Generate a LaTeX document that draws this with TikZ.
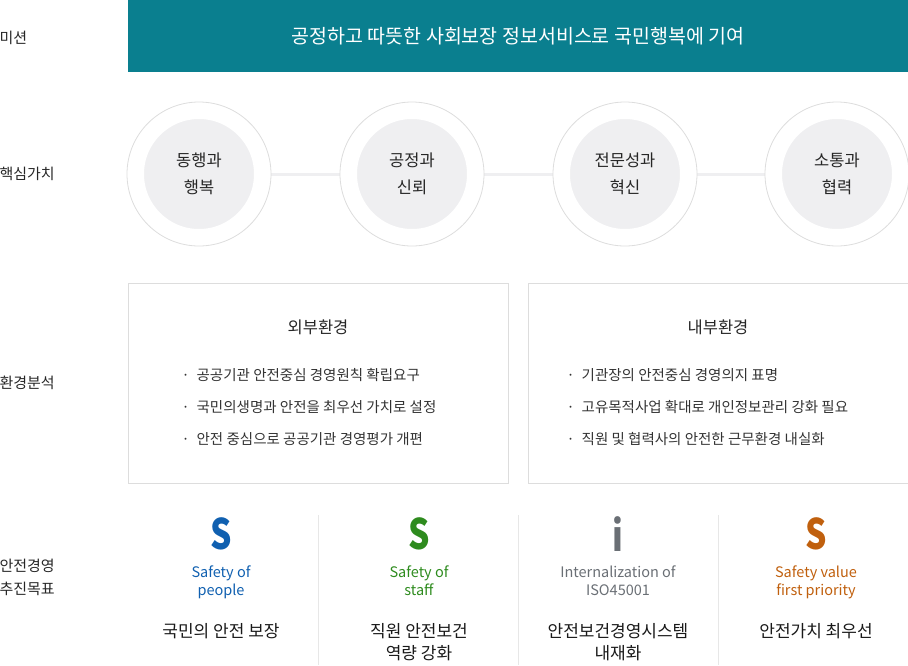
\documentclass[tikz,border=0pt]{standalone}
\usepackage{fontspec}
\setmainfont{Noto Sans CJK KR}
\definecolor{teal}{HTML}{0A7F8F}
\definecolor{circfill}{HTML}{EFEFF1}
\definecolor{edge}{HTML}{DDDDDD}
\definecolor{sblue}{HTML}{1060B0}
\definecolor{sgreen}{HTML}{2E8B1E}
\definecolor{sgray}{HTML}{6A6F75}
\definecolor{sorange}{HTML}{C0600E}
\tikzset{
  rowlabel/.style={anchor=west,font=\fontsize{15}{19}\selectfont,align=left,text=black!85},
  value/.style={circle,minimum size=121pt,fill=circfill,draw=white,line width=11pt,
    font=\fontsize{16.5}{27}\selectfont,align=center,text=black!85},
  ring/.style={circle,minimum size=144pt,draw=edge,line width=0.8pt,fill=white,inner sep=0pt},
  bullet/.style={anchor=west,font=\fontsize{14.5}{17}\selectfont,text=black!80},
  goalmark/.style={font=\bfseries\fontsize{42}{44}\selectfont,xscale=0.8},
  goalen/.style={font=\fontsize{14.5}{18}\selectfont,align=center},
  goalkr/.style={font=\fontsize{17}{22}\selectfont,align=center,text=black!90}
}
\begin{document}
\begin{tikzpicture}[x=1pt,y=-1pt]
  \useasboundingbox (0,0) rectangle (908,665);
  % mission
  \fill[teal] (128,0) rectangle (908,72);
  \node[font=\fontsize{19.5}{22}\selectfont,text=white] (mission) at (518,36) {공정하고 따뜻한 사회보장 정보서비스로 국민행복에 기여};
  \node[rowlabel] (l1) at (-4,38) {미션};
  \node[rowlabel] (l2) at (-4,174) {핵심가치};
  \node[rowlabel] (l3) at (-4,383) {환경분석};
  \node[rowlabel] (l4) at (-4,577) {안전경영\\[4pt]추진목표};
  % core values
  \draw[circfill,line width=3pt] (199,174) -- (837,174);
  \foreach \cx/\txt [count=\i] in {199/{동행과\\행복},412/{공정과\\신뢰},625/{전문성과\\혁신},837/{소통과\\협력}}{
    \node[ring] (r\i) at (\cx,174) {};
    \node[value] (v\i) at (\cx,174) {\txt};
  }
  % environment
  \draw[edge] (128,283) rectangle (508,483);
  \draw[edge] (528,283) rectangle (908,483);
  \node[font=\fontsize{16.5}{19}\selectfont,text=black!85] (ext) at (318,327) {외부환경};
  \node[font=\fontsize{16.5}{19}\selectfont,text=black!85] (int) at (718,327) {내부환경};
  \foreach \y/\txt in {375/공공기관 안전중심 경영원칙 확립요구,407/국민의생명과 안전을 최우선 가치로 설정,439/안전 중심으로 공공기관 경영평가 개편}
    \node[bullet] at (178,\y) {·\hspace{7pt}\txt};
  \foreach \y/\txt in {375/기관장의 안전중심 경영의지 표명,407/고유목적사업 확대로 개인정보관리 강화 필요,439/직원 및 협력사의 안전한 근무환경 내실화}
    \node[bullet] at (563,\y) {·\hspace{7pt}\txt};
  % goals
  \foreach \x in {318,518,718}
    \draw[edge!70,line width=1pt] (\x,515) -- (\x,665);
  \foreach \cx/\mk/\col/\en/\kr [count=\i] in {
    221/S/sblue/{Safety of\\people}/{국민의 안전 보장},
    419/S/sgreen/{Safety of\\staff}/{직원 안전보건\\역량 강화},
    618/i/sgray/{Internalization of\\ISO45001}/{안전보건경영시스템\\내재화},
    816/S/sorange/{Safety value\\first priority}/{안전가치 최우선}}{
    \node[goalmark,text=\col] (m\i) at (\cx,534) {\mk};
    \node[goalen,text=\col,anchor=north] (e\i) at (\cx,562) {\en};
    \node[goalkr,anchor=north] (k\i) at (\cx,620) {\kr};
  }
\end{tikzpicture}
\end{document}
